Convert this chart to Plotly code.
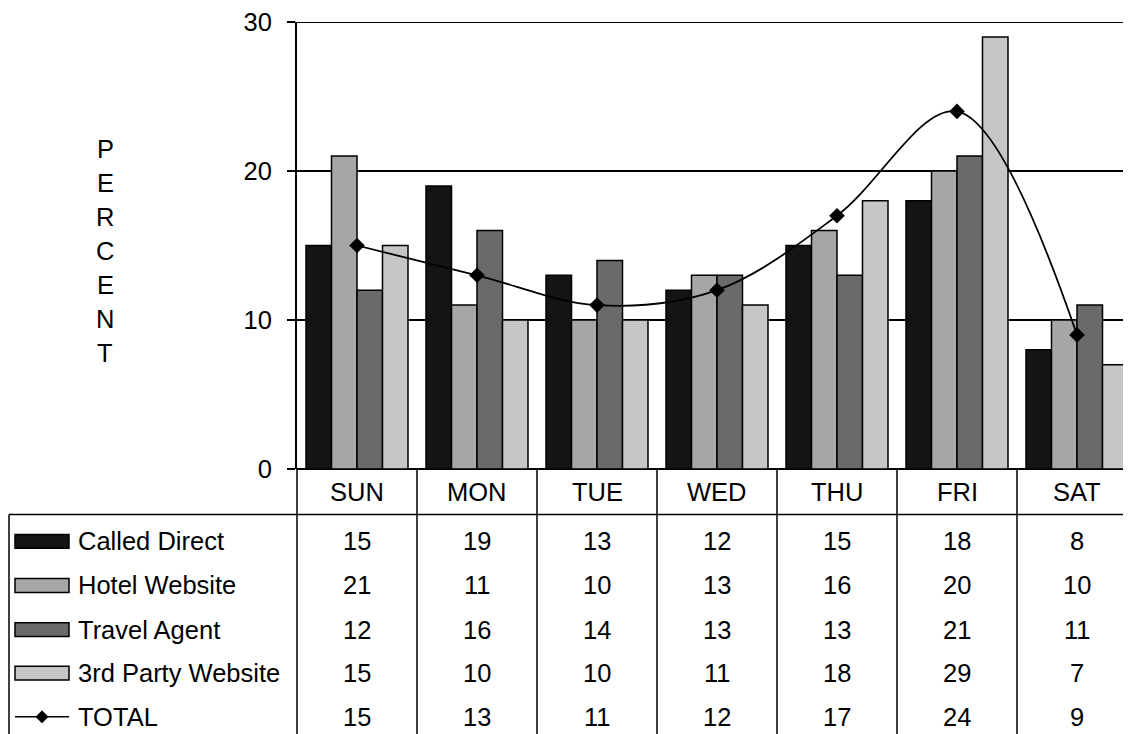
import plotly.graph_objects as go

# ---------------- data ----------------
days = ["SUN", "MON", "TUE", "WED", "THU", "FRI", "SAT"]
called_direct = [15, 19, 13, 12, 15, 18, 8]
hotel_website = [21, 11, 10, 13, 16, 20, 10]
travel_agent = [12, 16, 14, 13, 13, 21, 11]
third_party = [15, 10, 10, 11, 18, 29, 7]
total = [15, 13, 11, 12, 17, 24, 9]
series_names = ["Called Direct", "Hotel Website", "Travel Agent", "3rd Party Website", "TOTAL"]
y_ticks = [0, 10, 20, 30]
axis_title = "PERCENT"

# ---------------- styling / layout constants ----------------
W, H = 1131, 734
BODY = 8  # default browser body margin of the written page
PL, PR, PT, PB = 297, 1131, 18, 469
XMIN, XMAX = -0.5, 6.45
FONT = "Liberation Sans, Arial, sans-serif"
FS = 25.5
bar_colors = ["#141414", "#a6a6a6", "#6a6a6a", "#c6c6c6"]


def pxx(px):
    return (px - PL) / (PR - PL)


def pxy(py):
    return (PB - py) / (PB - PT)


def datax_to_paper(x):
    return (x - XMIN) / (XMAX - XMIN)


xs = list(range(len(days)))
bar_series = [called_direct, hotel_website, travel_agent, third_party]

fig = go.Figure()
for name, vals, col in zip(series_names[:4], bar_series, bar_colors):
    fig.add_trace(go.Bar(
        x=xs, y=vals, name=name,
        marker=dict(color=col, line=dict(color="black", width=1.5)),
    ))

fig.add_trace(go.Scatter(
    x=xs, y=total, name=series_names[4], mode="lines+markers",
    line=dict(color="black", width=1.8, shape="spline", smoothing=1.0),
    marker=dict(symbol="diamond", size=12, color="black"),
))

shapes = []
annotations = []

# top gridline (at the axis maximum)
shapes.append(dict(type="line", xref="paper", yref="y", x0=0, x1=1,
                   y0=y_ticks[-1], y1=y_ticks[-1], layer="below",
                   line=dict(color="black", width=2)))

# y axis title as stacked letters
for i, ch in enumerate(axis_title):
    annotations.append(dict(
        text=ch, x=pxx(105), y=pxy(146 + i * 34.3), xref="paper", yref="paper",
        showarrow=False, xanchor="center", yanchor="middle",
        font=dict(family=FONT, size=FS, color="black"),
    ))

# category header labels
for i, d in enumerate(days):
    annotations.append(dict(
        text=d, x=i, y=pxy(492), xref="x", yref="paper",
        showarrow=False, xanchor="center", yanchor="middle",
        font=dict(family=FONT, size=FS, color="black"),
    ))

bottom = pxy(760)
# vertical column lines of table
for k in range(len(days) + 1):
    xb = datax_to_paper(k - 0.5)
    shapes.append(dict(type="line", xref="paper", yref="paper",
                       x0=xb, x1=xb, y0=0, y1=bottom,
                       line=dict(color="black", width=1.5)))
# horizontal line under header
shapes.append(dict(type="line", xref="paper", yref="paper",
                   x0=pxx(9), x1=1.02, y0=pxy(515), y1=pxy(515),
                   line=dict(color="black", width=1.5)))
# left border of legend column
shapes.append(dict(type="line", xref="paper", yref="paper",
                   x0=pxx(9), x1=pxx(9), y0=pxy(515), y1=bottom,
                   line=dict(color="black", width=1.5)))

row_centers = [542, 586.5, 631, 675, 719]
table_rows = bar_series + [total]
for r, (name, vals) in enumerate(zip(series_names, table_rows)):
    yc = row_centers[r]
    if r < 4:
        shapes.append(dict(type="rect", xref="paper", yref="paper",
                           x0=pxx(15), x1=pxx(69), y0=pxy(yc - 7), y1=pxy(yc + 7),
                           fillcolor=bar_colors[r],
                           line=dict(color="black", width=1.5)))
    else:
        shapes.append(dict(type="line", xref="paper", yref="paper",
                           x0=pxx(15), x1=pxx(69), y0=pxy(yc), y1=pxy(yc),
                           line=dict(color="black", width=1.5)))
        cx = 42
        path = "M {} {} L {} {} L {} {} L {} {} Z".format(
            pxx(cx - 6), pxy(yc), pxx(cx), pxy(yc - 6),
            pxx(cx + 6), pxy(yc), pxx(cx), pxy(yc + 6))
        shapes.append(dict(type="path", xref="paper", yref="paper", path=path,
                           fillcolor="black", line=dict(color="black", width=1)))
    annotations.append(dict(
        text=name, x=pxx(76), y=pxy(yc), xref="paper", yref="paper",
        showarrow=False, xanchor="left", yanchor="middle",
        font=dict(family=FONT, size=FS, color="black"),
    ))
    for i, v in enumerate(vals):
        annotations.append(dict(
            text=str(v), x=i, y=pxy(yc), xref="x", yref="paper",
            showarrow=False, xanchor="center", yanchor="middle",
            font=dict(family=FONT, size=FS, color="black"),
        ))

fig.update_layout(
    width=W - BODY, height=H - BODY,
    margin=dict(l=PL - BODY, r=W - PR, t=PT - BODY, b=H - PB, pad=0),
    paper_bgcolor="white", plot_bgcolor="white",
    barmode="group", bargap=0.15, bargroupgap=0,
    showlegend=False,
    font=dict(family=FONT, size=FS, color="black"),
    shapes=shapes, annotations=annotations,
    xaxis=dict(range=[XMIN, XMAX], showticklabels=False, showgrid=False,
               zeroline=False, showline=False, ticks=""),
    yaxis=dict(range=[0, 30], tickvals=y_ticks, ticks="outside", ticklen=8,
               tickwidth=1.5, tickcolor="black", showgrid=True,
               gridcolor="black", gridwidth=1.5, zeroline=True,
               zerolinecolor="black", zerolinewidth=2,
               showline=True, linecolor="black", linewidth=2,
               ticklabelstandoff=10, ticklabeloverflow="allow",
               tickfont=dict(family=FONT, size=FS, color="black")),
)

fig.write_html("out.html")
